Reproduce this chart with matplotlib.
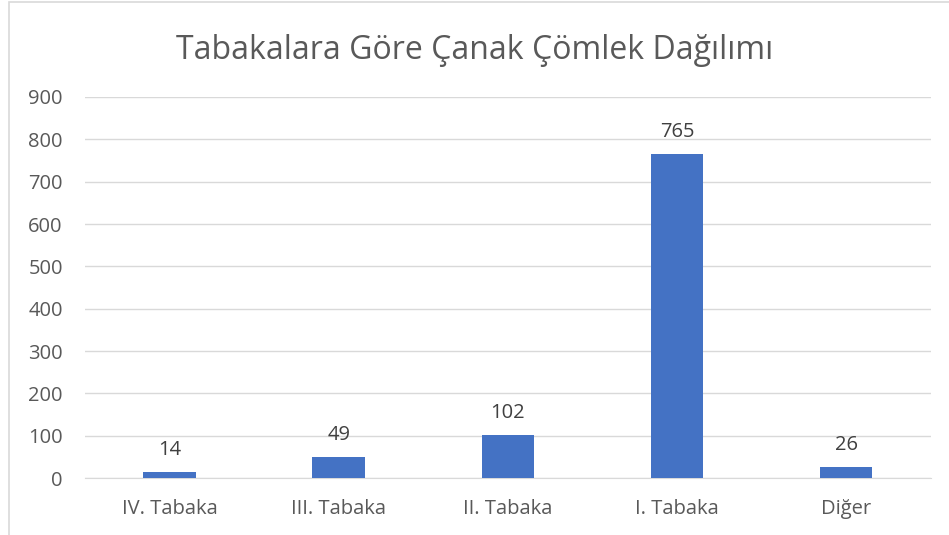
import matplotlib
matplotlib.use("Agg")
import matplotlib.pyplot as plt
from matplotlib.patches import Rectangle

# tabaka verisi
categories = ["IV. Tabaka", "III. Tabaka", "II. Tabaka", "I. Tabaka", "Diğer"]
counts = [14, 49, 102, 765, 26]
yticks = [0, 100, 200, 300, 400, 500, 600, 700, 800, 900]

plt.rcParams['font.family'] = ['Open Sans', 'DejaVu Sans']
gray = '#595959'

fig = plt.figure(figsize=(9.49, 5.35), dpi=100)
ax = fig.add_axes([0.0896, 0.1065, 0.891, 0.7122])

# outer chart border (light gray, partly off the picture)
fig.patches.append(Rectangle((8.5 / 949, -0.1), 1.2, 1 - 1.5 / 535 + 0.1,
                             transform=fig.transFigure, fill=False,
                             edgecolor='#d9d9d9', linewidth=1.2))

x = range(len(categories))
bars = ax.bar(x, counts, width=0.31, color='#4472c4', zorder=3)
for xi, v in zip(x, counts):
    ax.text(xi, v + 28, str(v), ha='center', va='bottom', fontsize=14.5, color='#404040')

ax.set_ylim(0, 900)
ax.set_xlim(-0.5, len(categories) - 0.5)
ax.set_yticks(yticks)
ax.set_xticks(list(x))
ax.set_xticklabels(categories)
ax.yaxis.grid(True, color='#d9d9d9', linewidth=1, zorder=0)
ax.tick_params(axis='both', length=0, labelsize=14.5, colors=gray)
ax.tick_params(axis='y', pad=16)
ax.tick_params(axis='x', pad=15)
for side in ['top', 'right', 'left']:
    ax.spines[side].set_visible(False)
ax.spines['bottom'].set_color('#d9d9d9')

fig.text(0.5, 0.906, "Tabakalara Göre Çanak Çömlek Dağılımı", ha='center', va='center',
         fontsize=23, color=gray)

fig.savefig("out.png", dpi=100)
